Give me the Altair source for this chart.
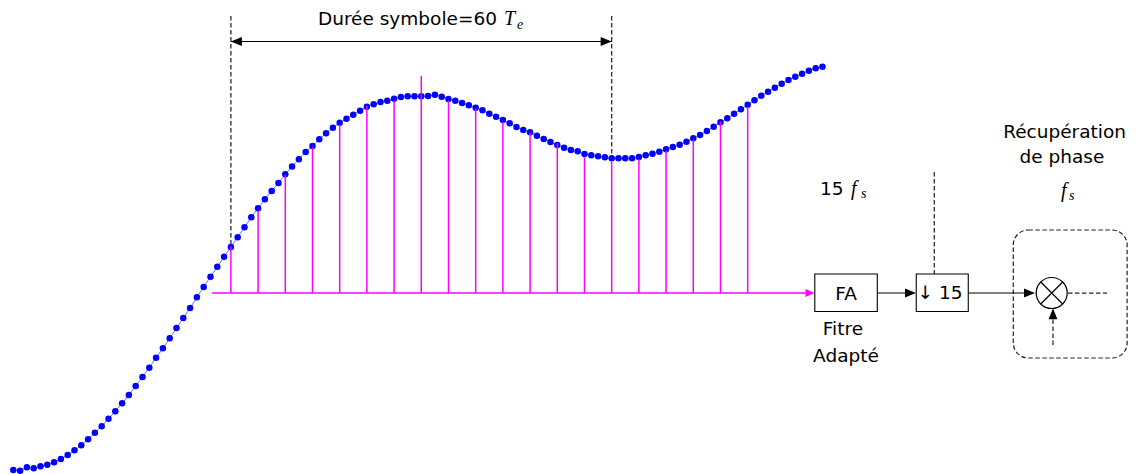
import altair as alt
import pandas as pd

# ---------------- data ----------------
# oversampled signal (sample index -> amplitude)
sample_index = list(range(120))
signal = [
    -1.770, -1.777, -1.743, -1.753, -1.733, -1.717, -1.693, -1.660, -1.620, -1.573,
    -1.523, -1.463, -1.397, -1.333, -1.257, -1.183, -1.103, -1.020, -0.930, -0.840,
    -0.747, -0.647, -0.553, -0.453, -0.350, -0.250, -0.150, -0.043, 0.060, 0.163,
    0.263, 0.363, 0.460, 0.557, 0.657, 0.757, 0.847, 0.937, 1.020, 1.100,
    1.187, 1.265, 1.338, 1.410, 1.470, 1.537, 1.597, 1.653, 1.703, 1.743,
    1.783, 1.823, 1.863, 1.887, 1.910, 1.923, 1.943, 1.960, 1.967, 1.967,
    1.967, 1.970, 1.983, 1.963, 1.940, 1.923, 1.900, 1.877, 1.853, 1.827,
    1.793, 1.763, 1.730, 1.697, 1.660, 1.630, 1.607, 1.573, 1.540, 1.510,
    1.480, 1.453, 1.430, 1.417, 1.390, 1.377, 1.367, 1.358, 1.348, 1.348,
    1.348, 1.347, 1.360, 1.377, 1.393, 1.413, 1.437, 1.460, 1.483, 1.513,
    1.547, 1.580, 1.620, 1.663, 1.707, 1.747, 1.793, 1.837, 1.883, 1.927,
    1.973, 2.013, 2.053, 2.093, 2.130, 2.163, 2.193, 2.223, 2.247, 2.263,
]
# decimated samples (stems)
stem_index = [32, 36, 40, 44, 48, 52, 56, 60, 64, 68, 72, 76, 80, 84, 88, 92, 96, 100, 104, 108]
stem_value = [0.463, 0.823, 1.180, 1.457, 1.680, 1.870, 1.923, 2.170, 1.923, 1.847,
              1.713, 1.597, 1.497, 1.357, 1.313, 1.337, 1.420, 1.530, 1.713, 1.863]

symbol_start = 32
symbol_end = 88

# ---------------- scales ----------------
xs = alt.Scale(domain=[-0.779, 163.93], nice=False, zero=False)
ys = alt.Scale(domain=[-1.81, 2.85], nice=False, zero=False)


def X(f="x"):
    return alt.X(f, type="quantitative", scale=xs, axis=None)


def Y(f="y"):
    return alt.Y(f, type="quantitative", scale=ys, axis=None)


def rules(rows, **style):
    df = pd.DataFrame(rows, columns=["x", "y", "x2", "y2"])
    return alt.Chart(df).mark_rule(**style).encode(
        x=X(), y=Y(), x2=alt.X2("x2"), y2=alt.Y2("y2"))


# ---------------- signal ----------------
curve_df = pd.DataFrame({"x": sample_index, "y": signal})
curve_line = alt.Chart(curve_df).mark_line(color="#7070ff", strokeWidth=1).encode(x=X(), y=Y())
curve_dots = alt.Chart(curve_df).mark_circle(color="#0000ff", size=42, opacity=1).encode(x=X(), y=Y())

stems = rules([(i, 0.0, i, v) for i, v in zip(stem_index, stem_value)],
              color="#ff00ff", strokeWidth=1.5)
baseline = rules([(29.22, 0.0, 116.6, 0.0)], color="#ff00ff", strokeWidth=1.5)

# ---------------- dashed guides ----------------
dashed = rules([
    (symbol_start, 2.77, symbol_start, signal[symbol_start]),
    (symbol_end, 2.77, symbol_end, signal[symbol_end]),
    (135.44, 1.21, 135.44, 0.19),
    (155.1, 0.0, 160.84, 0.0),
    (152.9, -0.52, 152.9, -0.24),
], color="#222222", strokeWidth=1.25, strokeDash=[4.5, 2.5])

solid = rules([
    (symbol_start, 2.515, symbol_end, 2.515),
    (127.06, 0.0, 132.0, 0.0),
    (140.44, 0.0, 149.9, 0.0),
], color="black", strokeWidth=1.2)

# ---------------- arrow heads ----------------
head_path = "M 1 0 L -1 -0.8 L -1 0.8 Z"
heads_df = pd.DataFrame({
    "x": [131.94, 149.44, 32.81, 87.19, 152.9],
    "y": [0.0, 0.0, 2.515, 2.515, -0.208],
    "ang": [0, 0, 180, 0, 270],
})
heads = alt.Chart(heads_df).mark_point(shape=head_path, filled=True, fill="black",
                                       strokeWidth=0, size=121, opacity=1).encode(
    x=X(), y=Y(), angle=alt.Angle("ang:Q", scale=None))
mag_head = alt.Chart(pd.DataFrame({"x": [117.16], "y": [0.0]})).mark_point(
    shape="M 1 0 L -1 -0.88 L -1 0.88 Z", filled=True, fill="#ff00ff", strokeWidth=0,
    size=81, opacity=1).encode(x=X(), y=Y())

# ---------------- blocks ----------------
box_df = pd.DataFrame({"x": [117.87, 132.79], "x2": [127.06, 140.44],
                       "y": [0.19, 0.19], "y2": [-0.185, -0.185]})
boxes = alt.Chart(box_df).mark_rect(fill="white", stroke="black", strokeWidth=1.1).encode(
    x=X(), x2=alt.X2("x2"), y=Y(), y2=alt.Y2("y2"))

round_df = pd.DataFrame({"x": [147.06], "x2": [163.8], "y": [0.63], "y2": [-0.65]})
round_box = alt.Chart(round_df).mark_rect(fill="white", fillOpacity=0, stroke="#222222",
                                          strokeWidth=1.2, strokeDash=[4.5, 2.5],
                                          cornerRadius=15).encode(
    x=X(), x2=alt.X2("x2"), y=Y(), y2=alt.Y2("y2"))

mixer_df = pd.DataFrame({"x": [152.71], "y": [0.0]})
mixer_circle = alt.Chart(mixer_df).mark_point(shape="circle", filled=False, stroke="black",
                                              strokeWidth=1.2, size=961, opacity=1).encode(
    x=X(), y=Y())
mixer_cross = alt.Chart(mixer_df).mark_point(
    shape="M -0.7071 -0.7071 L 0.7071 0.7071 M -0.7071 0.7071 L 0.7071 -0.7071",
    filled=False, stroke="black", strokeWidth=1.2, size=961, opacity=1).encode(x=X(), y=Y())

# ---------------- texts ----------------
sans = dict(font="DejaVu Sans", fontSize=18.5, color="black", baseline="alphabetic")
center_txt = pd.DataFrame({
    "x": [122.46, 122.01, 122.46, 136.28, 154.6, 154.21],
    "y": [-0.065, -0.42, -0.69, -0.055, 1.55, 1.30],
    "t": ["FA", "Fitre", "Adapté", "↓ 15", "Récupération", "de phase"],
})
t_center = alt.Chart(center_txt).mark_text(align="center", **sans).encode(x=X(), y=Y(), text="t:N")
t_right = alt.Chart(pd.DataFrame({"x": [71.13], "y": [2.68], "t": ["Durée symbole=60"]})).mark_text(
    align="right", **sans).encode(x=X(), y=Y(), text="t:N")
t_left = alt.Chart(pd.DataFrame({"x": [118.63], "y": [0.98], "t": ["15"]})).mark_text(
    align="left", **sans).encode(x=X(), y=Y(), text="t:N")

math_big = pd.DataFrame({"x": [72.16, 123.19, 154.07], "y": [2.68, 0.98, 0.96], "t": ["T", "f", "f"]})
math_sub = pd.DataFrame({"x": [74.07, 124.66, 155.25], "y": [2.64, 0.95, 0.93], "t": ["e", "s", "s"]})
t_math = alt.Chart(math_big).mark_text(align="left", baseline="alphabetic", font="Liberation Serif",
                                       fontStyle="italic", fontSize=20, color="black").encode(
    x=X(), y=Y(), text="t:N")
t_math_sub = alt.Chart(math_sub).mark_text(align="left", baseline="alphabetic", font="Liberation Serif",
                                           fontStyle="italic", fontSize=14, color="black").encode(
    x=X(), y=Y(), text="t:N")

chart = alt.layer(
    round_box, dashed, solid, heads, boxes, mixer_circle, mixer_cross,
    curve_line, curve_dots, stems, baseline, mag_head,
    t_center, t_right, t_left, t_math, t_math_sub,
).properties(width=1120, height=466, padding=0, autosize="none").configure_view(stroke=None)

chart.save("out.html", embed_options={"renderer": "svg", "actions": False})
